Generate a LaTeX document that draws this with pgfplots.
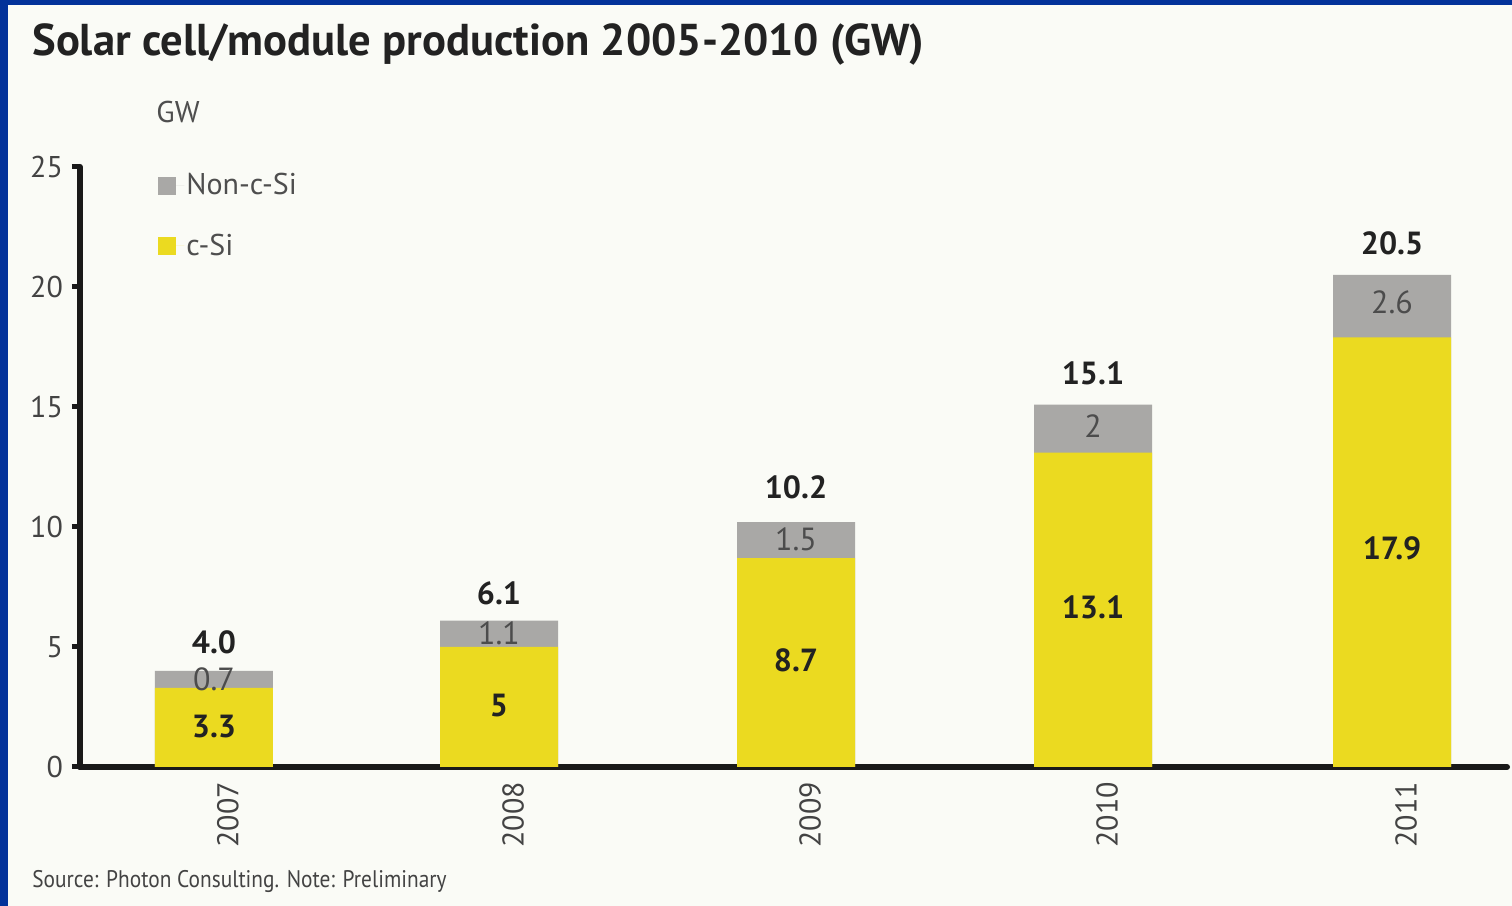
\documentclass[border=0pt]{standalone}
\usepackage{pgfplots}
\pgfplotsset{compat=1.18}
\usepackage{fontspec}
\setmainfont{PT Sans}
\newfontfamily\narrowfont[FakeStretch=0.89]{PT Sans}
\usetikzlibrary{backgrounds}
\definecolor{bgblue}{HTML}{03329A}
\definecolor{paper}{HTML}{FAFBF6}
\definecolor{csi}{HTML}{EBDA20}
\definecolor{noncsi}{HTML}{A9A8A6}
\definecolor{txt}{HTML}{222222}
\begin{document}
\begin{tikzpicture}
\begin{axis}[
  scale only axis, width=713.5pt, height=300pt,
  xmin=80, xmax=1507, ymin=0, ymax=25,
  clip=false,
  axis lines=left,
  axis line style={line width=3pt, -, line cap=round, black!90},
  every inner x axis line/.append style={line width=3pt},
  every inner y axis line/.append style={line width=3pt},
  ytick={0,5,10,15,20,25},
  xtick={214,499,796,1093,1392},
  xticklabels={2007,2008,2009,2010,2011},
  tick align=outside,
  major tick length=4pt,
  xtick style={draw=none},
  ytick style={line width=2.5pt, black!90},
  /pgf/number format/assume math mode=true,
  y tick label style={font=\fontsize{15}{15}\selectfont, color=txt!85, xshift=-1pt},
  x tick label style={rotate=90, anchor=east, font=\fontsize{15}{15}\selectfont, color=txt!85, yshift=-7pt},
  legend style={at={(axis cs:152,25.0)}, anchor=north west, draw=none, fill=none,
    font=\fontsize{15}{15}\selectfont, text=txt!80, row sep=16pt,
    nodes={inner sep=1pt}},
  legend cell align=left,
]
\coordinate (bgA) at (axis cs:0,-5.7917);
\coordinate (bgB) at (axis cs:1512,31.958);
\coordinate (wA) at (axis cs:8,-5.7917);
\coordinate (wB) at (axis cs:1512,31.75);

\addplot[ybar, bar width=118, bar shift=0pt, fill=noncsi, draw=none,
  legend image code/.code={\fill[noncsi] (0pt,-4.5pt) rectangle (9pt,4.5pt);\path (0pt,0pt) -- (13pt,0pt);}]
  coordinates {(214,4.0) (499,6.1) (796,10.2) (1093,15.1) (1392,20.5)};
\addlegendentry{Non-c-Si}
\addplot[ybar, bar width=118, bar shift=0pt, fill=csi, draw=none,
  legend image code/.code={\fill[csi] (0pt,-4.5pt) rectangle (9pt,4.5pt);\path (0pt,0pt) -- (13pt,0pt);}]
  coordinates {(214,3.3) (499,5) (796,8.7) (1093,13.1) (1392,17.9)};
\addlegendentry{c-Si}

% totals
\addplot[draw=none, mark=none, forget plot, nodes near coords, point meta=explicit symbolic,
  nodes near coords style={anchor=center, font=\fontsize{16}{16}\selectfont\bfseries, text=txt}]
  table[meta=t] {
x y t
214 5.21 4.0
499 7.25 6.1
796 11.67 10.2
1093 16.42 15.1
1392 21.83 20.5
};
% Non-c-Si values
\addplot[draw=none, mark=none, forget plot, nodes near coords, point meta=explicit symbolic,
  nodes near coords style={anchor=center, font=\fontsize{16}{16}\selectfont, text=black!70}]
  table[meta=t] {
x y t
214 3.67 0.7
499 5.58 1.1
796 9.5 1.5
1093 14.2 2
1392 19.35 2.6
};
% c-Si values
\addplot[draw=none, mark=none, forget plot, nodes near coords, point meta=explicit symbolic,
  nodes near coords style={anchor=center, font=\fontsize{16}{16}\selectfont\bfseries, text=txt}]
  table[meta=t] {
x y t
214 1.67 3.3
499 2.54 5
796 4.46 8.7
1093 6.67 13.1
1392 9.1 17.9
};

\node[anchor=west, font=\fontsize{22.3}{22.3}\selectfont\bfseries, text=txt, inner sep=0pt]
  at (axis cs:32,30.1) {Solar cell/module production 2005-2010 (GW)};
\node[anchor=west, font=\fontsize{15}{15}\selectfont, text=txt!80, inner sep=0pt]
  at (axis cs:156,27.3) {GW};
\node[anchor=west, font=\fontsize{12}{12}\narrowfont, text=txt!85, inner sep=0pt]
  at (axis cs:32,-4.79) {Source: Photon Consulting. Note: Preliminary};
\end{axis}
\begin{scope}[on background layer]
\fill[bgblue] (bgA) rectangle (bgB);
\fill[paper] (wA) rectangle (wB);
\end{scope}
\end{tikzpicture}
\end{document}
